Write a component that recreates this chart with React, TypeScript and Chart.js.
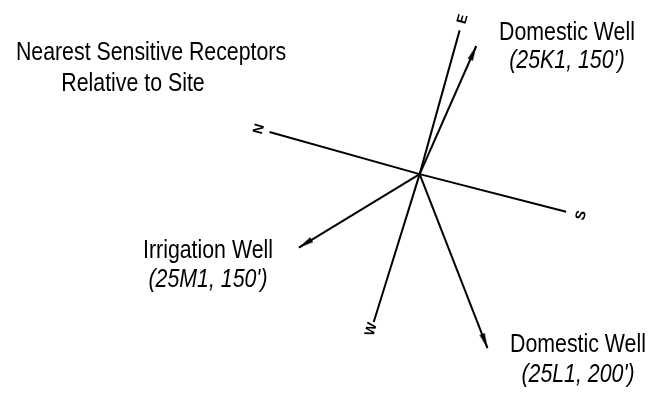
import React, { useEffect, useRef } from 'react';
import { Chart, registerables } from 'chart.js';

Chart.register(...registerables);

// ---- data ----
const northAngle = 164.1; // on-screen math angle (deg, CCW from +x) of map north
const compassLabels = ['N', 'E', 'S', 'W'];
const compassBearings = [0, 89.4, 178.7, 271.1];
const compassLengths = [165, 160, 160, 166]; // feet (drawing units)

const wellNames = ['Domestic Well', 'Irrigation Well', 'Domestic Well'];
const wellIds = ['25K1', '25M1', '25L1'];
const wellDistances = [150, 150, 200]; // feet
const wellBearings = [97.6, 312.4, 233.1]; // deg clockwise from north

const titleLines = ['Nearest Sensitive Receptors', 'Relative to Site'];

// ---- layout ----
const W = 653;
const H = 402;
const PX_PER_FT = 0.97;
const SITE_PX = { x: 422, y: 173 };
const COMPASS_GAP = [11, 12, 16, 8];

function toXY(bearing: number, dist: number) {
  const a = ((northAngle - bearing) * Math.PI) / 180;
  return { x: dist * Math.cos(a), y: dist * Math.sin(a) };
}

function makeArrowHead() {
  const c = document.createElement('canvas');
  c.width = 36;
  c.height = 36;
  const g = c.getContext('2d')!;
  g.fillStyle = '#000';
  g.beginPath();
  g.moveTo(18, 18);
  g.lineTo(20.8, 33);
  g.lineTo(15.2, 33);
  g.closePath();
  g.fill();
  return c;
}

export default function App() {
  const ref = useRef<HTMLCanvasElement | null>(null);

  useEffect(() => {
    document.body.style.margin = '0';
    const canvas = ref.current!;
    const arrow = makeArrowHead();
    const origin = { x: 0, y: 0 };

    const datasets: any[] = [];
    // compass axes
    datasets.push({
      data: [toXY(compassBearings[0], compassLengths[0]), origin, toXY(compassBearings[2], compassLengths[2])],
      borderColor: '#000',
      borderWidth: 2,
      pointRadius: 0,
      showLine: true,
    });
    datasets.push({
      data: [toXY(compassBearings[1], compassLengths[1]), origin, toXY(compassBearings[3], compassLengths[3])],
      borderColor: '#000',
      borderWidth: 2,
      pointRadius: 0,
      showLine: true,
    });
    // wells
    wellBearings.forEach((b, i) => {
      const tip = toXY(b, wellDistances[i]);
      const theta = northAngle - b;
      datasets.push({
        label: wellNames[i] + ' ' + wellIds[i],
        data: [origin, tip],
        borderColor: '#000',
        borderWidth: 2,
        showLine: true,
        pointRadius: [0, 6],
        pointStyle: [false, arrow],
        rotation: [0, 90 - theta],
      });
    });

    const textPlugin = {
      id: 'textLabels',
      afterDraw(chart: any) {
        const ctx: CanvasRenderingContext2D = chart.ctx;
        const xs = chart.scales.x;
        const ys = chart.scales.y;
        ctx.save();
        ctx.fillStyle = '#000';
        ctx.textAlign = 'center';
        ctx.textBaseline = 'alphabetic';

        ctx.font = '26px "Liberation Sans"';
        const base = ctx.measureText('Nearest Sensitive Receptors').width;
        ctx.font = '26px "Liberation Sans Narrow", "Liberation Sans"';
        const narrow = ctx.measureText('Nearest Sensitive Receptors').width;
        const hasNarrow = narrow < base * 0.95;

        const drawText = (t: string, cx: number, by: number, italic: boolean) => {
          const st = italic ? 'italic ' : '';
          if (hasNarrow) {
            ctx.font = st + '26px "Liberation Sans Narrow"';
            ctx.fillText(t, cx, by);
          } else {
            ctx.save();
            ctx.translate(cx, by);
            ctx.scale(0.82, 1);
            ctx.font = st + '26px "Liberation Sans"';
            ctx.fillText(t, 0, 0);
            ctx.restore();
          }
        };

        drawText(titleLines[0], 151, 60, false);
        drawText(titleLines[1], 133, 91, false);

        const wellLabelPos = [
          { x: 567, y1: 40, y2: 68 },
          { x: 208, y1: 258, y2: 287 },
          { x: 578, y1: 352, y2: 382 },
        ];
        wellNames.forEach((n, i) => {
          const p = wellLabelPos[i];
          drawText(n, p.x, p.y1, false);
          drawText('(' + wellIds[i] + ', ' + wellDistances[i] + "')", p.x, p.y2, true);
        });

        // compass letters rotated with the map
        const rot = -((northAngle - 90) * Math.PI) / 180;
        ctx.font = 'bold 14px "Liberation Sans"';
        ctx.textBaseline = 'middle';
        compassLabels.forEach((l, i) => {
          const d = compassLengths[i] + COMPASS_GAP[i] / PX_PER_FT;
          const p = toXY(compassBearings[i], d);
          const px = xs.getPixelForValue(p.x);
          const py = ys.getPixelForValue(p.y);
          ctx.save();
          ctx.translate(px, py);
          ctx.rotate(rot);
          ctx.fillText(l, 0, 0);
          ctx.restore();
        });
        ctx.restore();
      },
    };

    const chart = new Chart(canvas, {
      type: 'scatter',
      data: { datasets },
      options: {
        animation: false,
        responsive: false,
        events: [],
        layout: { padding: 0 },
        plugins: { legend: { display: false }, tooltip: { enabled: false }, title: { display: false } },
        scales: {
          x: {
            type: 'linear',
            display: false,
            min: -SITE_PX.x / PX_PER_FT,
            max: (W - SITE_PX.x) / PX_PER_FT,
          },
          y: {
            type: 'linear',
            display: false,
            min: -(H - SITE_PX.y) / PX_PER_FT,
            max: SITE_PX.y / PX_PER_FT,
          },
        },
      },
      plugins: [textPlugin],
    });
    return () => chart.destroy();
  }, []);

  return (
    <div style={{ width: W, height: H, background: '#fff' }}>
      <canvas ref={ref} width={W} height={H} style={{ display: 'block' }} />
    </div>
  );
}
